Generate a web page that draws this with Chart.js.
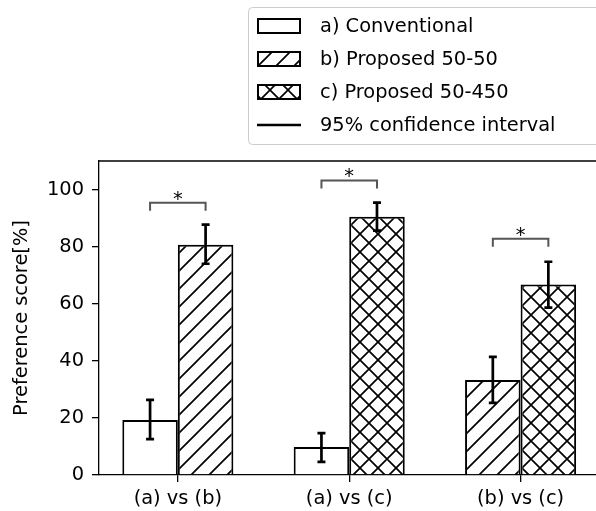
<!DOCTYPE html>
<html>
<head>
<meta charset="utf-8">
<script src="https://cdn.jsdelivr.net/npm/chart.js@4/dist/chart.umd.min.js"></script>
<style>
  body { margin: 0; background: #fff; }
  #wrap { width: 596px; height: 511px; }
</style>
</head>
<body>
<div id="wrap"><canvas id="prefChart" width="596" height="511"></canvas></div>
<script>
const categories = ['(a) vs (b)', '(a) vs (c)', '(b) vs (c)'];
const leftMethod = ['a', 'a', 'b'];
const rightMethod = ['b', 'c', 'c'];
const leftScores = [19.3, 9.8, 33.3];
const rightScores = [80.7, 90.5, 66.7];
const leftCiLow = [12.6, 4.6, 25.3];
const leftCiHigh = [26.3, 14.7, 41.4];
const rightCiLow = [74.0, 85.6, 58.6];
const rightCiHigh = [87.7, 95.4, 74.7];
const sigHeight = [95.4, 103.2, 82.8];
const yTicks = [0, 20, 40, 60, 80, 100];
const legendLabels = ['a) Conventional', 'b) Proposed 50-50', 'c) Proposed 50-450', '95% confidence interval'];

const FONT = '"DejaVu Sans", sans-serif';
const FS = 19.4;

/* hatch patterns */
function makeHatch(cross) {
  const s = 18;
  const c = document.createElement('canvas');
  c.width = s; c.height = s;
  const g = c.getContext('2d');
  g.fillStyle = '#fff';
  g.fillRect(0, 0, s, s);
  g.strokeStyle = '#000';
  g.lineWidth = 1.7;
  g.beginPath();
  g.moveTo(-2, s + 2); g.lineTo(s + 2, -2);
  g.moveTo(-2, 2); g.lineTo(2, -2);
  g.moveTo(s - 2, s + 2); g.lineTo(s + 2, s - 2);
  if (cross) {
    g.moveTo(-2, -2); g.lineTo(s + 2, s + 2);
    g.moveTo(s - 2, -2); g.lineTo(s + 2, 2);
    g.moveTo(-2, s - 2); g.lineTo(2, s + 2);
  }
  g.stroke();
  return g.createPattern(c, 'repeat');
}
const fills = { a: '#ffffff', b: makeHatch(false), c: makeHatch(true) };

const ctx = document.getElementById('prefChart');

const extras = {
  id: 'extras',
  afterDatasetsDraw(chart) {
    const c = chart.ctx;
    const ys = chart.scales.y;
    const area = chart.chartArea;
    // top spine
    c.save();
    c.strokeStyle = '#000';
    c.lineWidth = 1.3;
    c.beginPath();
    c.moveTo(area.left, area.top);
    c.lineTo(area.right, area.top);
    c.stroke();

    // error bars
    const lows = [leftCiLow, rightCiLow];
    const highs = [leftCiHigh, rightCiHigh];
    c.lineWidth = 2.7;
    for (let d = 0; d < 2; d++) {
      const meta = chart.getDatasetMeta(d);
      meta.data.forEach((bar, i) => {
        const yl = ys.getPixelForValue(lows[d][i]);
        const yh = ys.getPixelForValue(highs[d][i]);
        c.beginPath();
        c.moveTo(bar.x, yl); c.lineTo(bar.x, yh);
        c.moveTo(bar.x - 4, yl); c.lineTo(bar.x + 4, yl);
        c.moveTo(bar.x - 4, yh); c.lineTo(bar.x + 4, yh);
        c.stroke();
      });
    }

    // significance brackets
    const m0 = chart.getDatasetMeta(0), m1 = chart.getDatasetMeta(1);
    c.strokeStyle = '#555';
    c.lineWidth = 2;
    c.fillStyle = '#000';
    c.font = FS + 'px ' + FONT;
    c.textAlign = 'center';
    c.textBaseline = 'alphabetic';
    sigHeight.forEach((h, i) => {
      const x0 = m0.data[i].x, x1 = m1.data[i].x;
      const y = ys.getPixelForValue(h);
      c.beginPath();
      c.moveTo(x0, y + 8); c.lineTo(x0, y); c.lineTo(x1, y); c.lineTo(x1, y + 8);
      c.stroke();
      c.fillText('*', (x0 + x1) / 2, y + 2);
    });
    c.restore();
  },
  afterDraw(chart) {
    const c = chart.ctx;
    c.save();
    // legend frame
    c.fillStyle = 'rgba(255,255,255,0.8)';
    c.strokeStyle = '#cccccc';
    c.lineWidth = 1;
    c.beginPath();
    c.roundRect(248.5, 7.5, 400, 137, 4);
    c.fill();
    c.stroke();
    const rows = [26, 59, 92, 125];
    const keys = ['a', 'b', 'c'];
    keys.forEach((k, i) => {
      c.fillStyle = fills[k];
      c.fillRect(258, rows[i] - 7, 42, 14);
      c.strokeStyle = '#000';
      c.lineWidth = 2;
      c.strokeRect(258, rows[i] - 7, 42, 14);
    });
    c.strokeStyle = '#000';
    c.lineWidth = 2.7;
    c.beginPath();
    c.moveTo(257, rows[3]); c.lineTo(301, rows[3]);
    c.stroke();
    c.fillStyle = '#000';
    c.font = FS + 'px ' + FONT;
    c.textAlign = 'left';
    c.textBaseline = 'middle';
    legendLabels.forEach((t, i) => c.fillText(t, 320, rows[i] + 1));
    c.restore();
  }
};

new Chart(ctx, {
  type: 'bar',
  data: {
    datasets: [
      {
        data: leftScores.map((v, i) => ({ x: i, y: v })),
        backgroundColor: leftMethod.map(m => fills[m]),
        borderColor: '#000',
        borderWidth: 2
      },
      {
        data: rightScores.map((v, i) => ({ x: i, y: v })),
        backgroundColor: rightMethod.map(m => fills[m]),
        borderColor: '#000',
        borderWidth: 2
      }
    ]
  },
  options: {
    responsive: false,
    animation: false,
    categoryPercentage: 0.648,
    barPercentage: 1,
    layout: { padding: { top: 161, right: 0, left: 0, bottom: 0 } },
    plugins: {
      legend: { display: false },
      tooltip: { enabled: false }
    },
    scales: {
      x: {
        type: 'linear',
        min: -0.46,
        max: 2.44,
        offset: false,
        afterBuildTicks: s => { s.ticks = categories.map((_, i) => ({ value: i })); },
        afterFit: s => { s.height = 36; },
        ticks: {
          callback: v => categories[v],
          color: '#000',
          font: { family: FONT, size: FS },
          padding: 5,
          maxRotation: 0
        },
        grid: { offset: false, drawOnChartArea: false, tickLength: 7, color: '#000', lineWidth: 1.3 },
        border: { color: '#000', width: 1.3 }
      },
      y: {
        min: 0,
        max: 110,
        afterBuildTicks: s => { s.ticks = yTicks.map(v => ({ value: v })); },
        afterFit: s => { s.width = 99; },
        ticks: {
          color: '#000',
          font: { family: FONT, size: FS },
          padding: 8
        },
        grid: { drawOnChartArea: false, tickLength: 7, color: '#000', lineWidth: 1.3 },
        border: { color: '#000', width: 1.3 },
        title: {
          display: true,
          text: 'Preference score[%]',
          color: '#000',
          font: { family: FONT, size: FS, lineHeight: 1.2 },
          padding: { top: 10, bottom: 0 }
        }
      }
    }
  },
  plugins: [extras]
});
</script>
</body>
</html>
